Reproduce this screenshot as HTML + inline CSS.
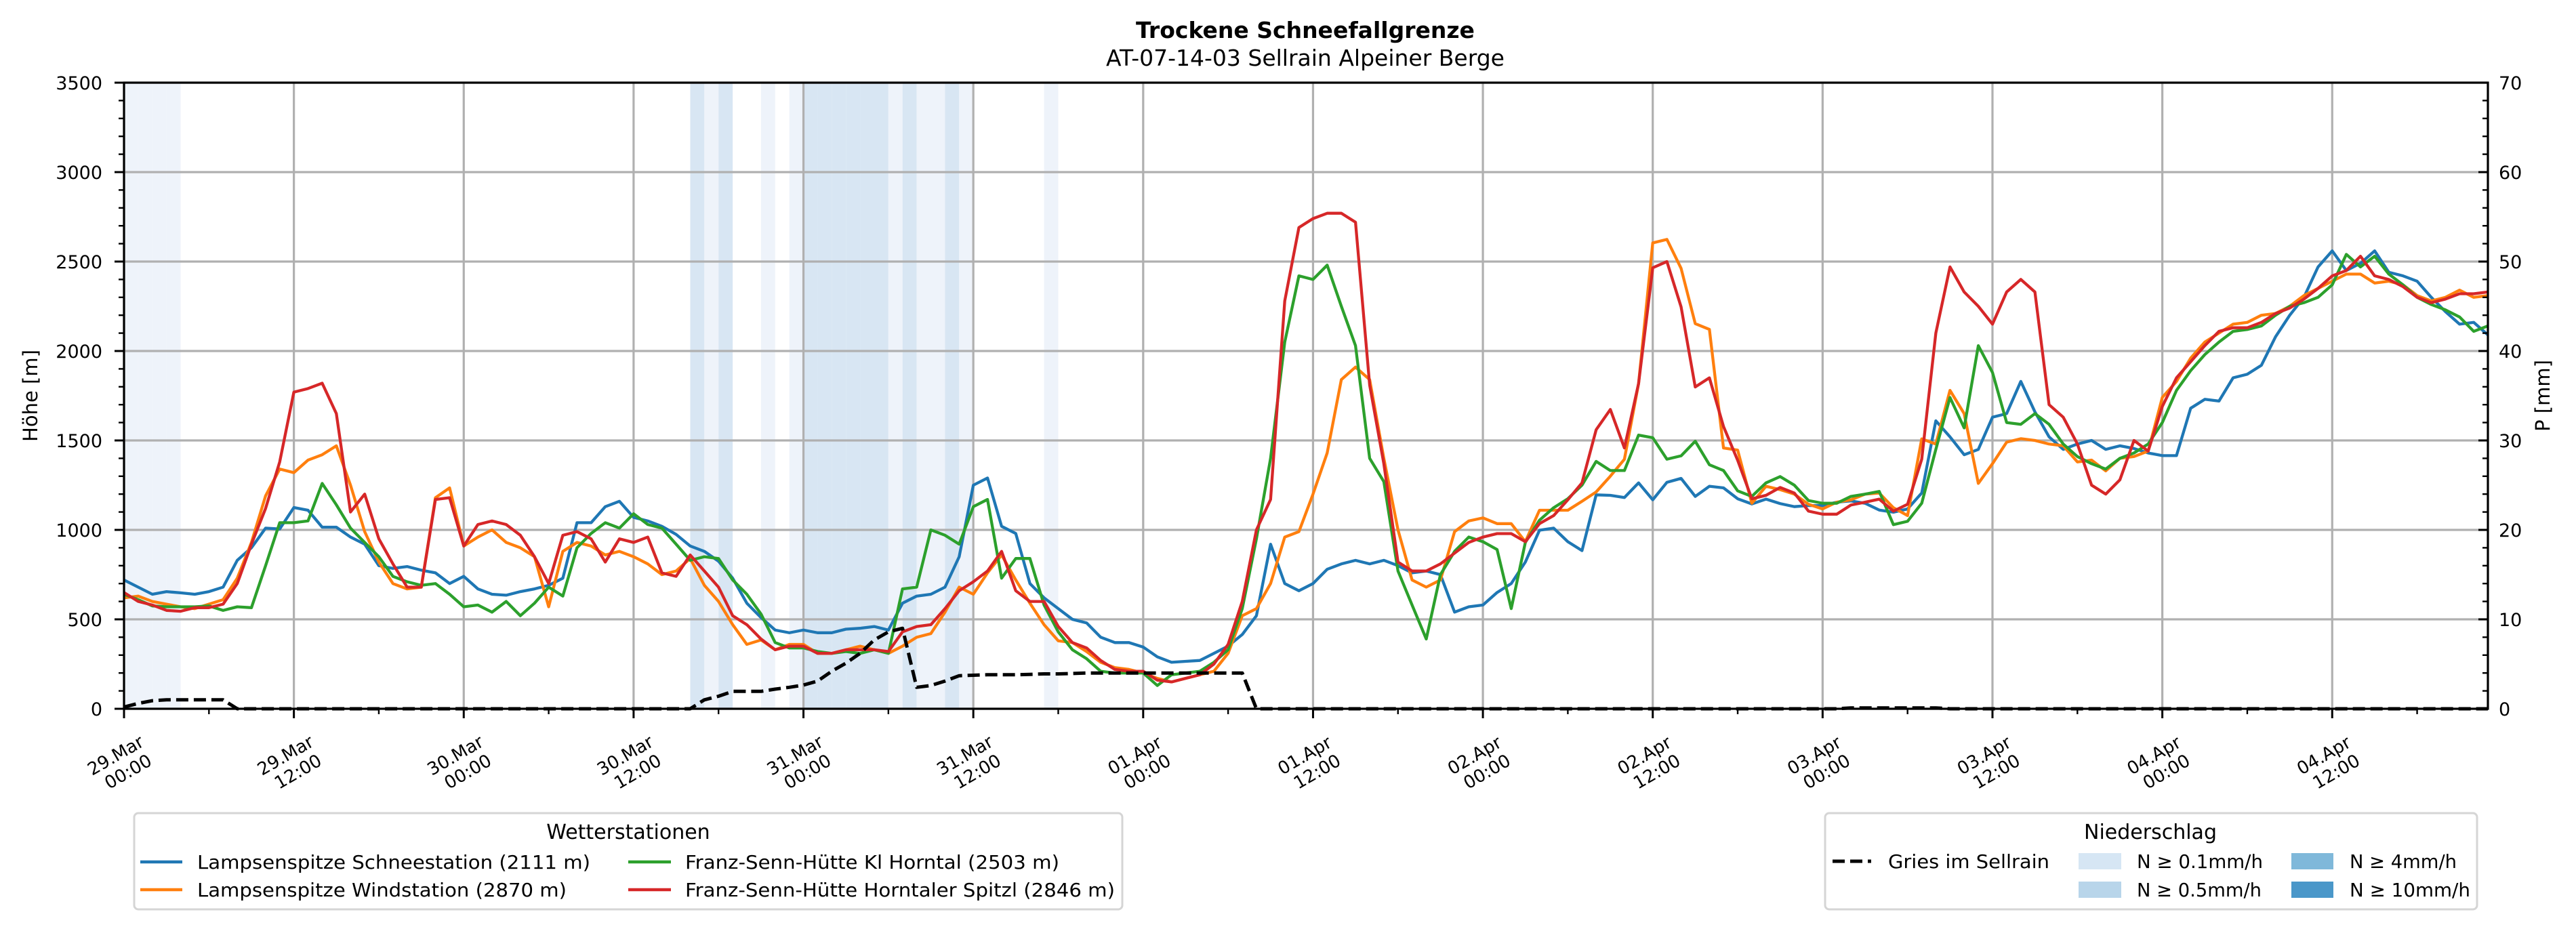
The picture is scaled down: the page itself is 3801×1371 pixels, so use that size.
<!DOCTYPE html>
<html><head><meta charset="utf-8">
<style>
html,body{margin:0;padding:0;background:#fff;}
svg{display:block;font-family:"DejaVu Sans","Liberation Sans",sans-serif;}
</style></head>
<body>
<svg id="chart" width="3801" height="1371" viewBox="0 0 3801 1371" xmlns="http://www.w3.org/2000/svg">
<rect width="3801" height="1371" fill="#fff"/>
<text x="1926" y="56" text-anchor="middle" font-size="33" font-weight="bold">Trockene Schneefallgrenze</text>
<text x="1926" y="97" text-anchor="middle" font-size="33">AT-07-14-03 Sellrain Alpeiner Berge</text>
<g id="bands"></g>
<g id="grid"></g>
<g id="series"></g>
<g id="axes"></g>
<text transform="translate(55,584) rotate(-90)" text-anchor="middle" font-size="29">Höhe [m]</text>
<text transform="translate(3762,584) rotate(-90)" text-anchor="middle" font-size="29">P [mm]</text>

<g>
<rect x="198" y="1200" width="1458" height="142" rx="6" fill="#fff" stroke="#d5d5d5" stroke-width="3"/>
<text x="927" y="1238" text-anchor="middle" font-size="30">Wetterstationen</text>
<g><line x1="207" y1="1272" x2="269" y2="1272" stroke="#1f77b4" stroke-width="4.5"/><text x="291" y="1282" font-size="28" textLength="580" lengthAdjust="spacingAndGlyphs">Lampsenspitze Schneestation (2111 m)</text></g>
<g><line x1="207" y1="1313" x2="269" y2="1313" stroke="#ff7f0e" stroke-width="4.5"/><text x="291" y="1323" font-size="28" textLength="545" lengthAdjust="spacingAndGlyphs">Lampsenspitze Windstation (2870 m)</text></g>
<g><line x1="927" y1="1272" x2="990" y2="1272" stroke="#2ca02c" stroke-width="4.5"/><text x="1011" y="1282" font-size="28" textLength="552" lengthAdjust="spacingAndGlyphs">Franz-Senn-Hütte Kl Horntal (2503 m)</text></g>
<g><line x1="927" y1="1313" x2="990" y2="1313" stroke="#d62728" stroke-width="4.5"/><text x="1011" y="1323" font-size="28" textLength="634" lengthAdjust="spacingAndGlyphs">Franz-Senn-Hütte Horntaler Spitzl (2846 m)</text></g>
</g>

<g>
<rect x="2693" y="1200" width="962" height="142" rx="6" fill="#fff" stroke="#d5d5d5" stroke-width="3"/>
<text x="3173" y="1238" text-anchor="middle" font-size="30">Niederschlag</text>
<g><line x1="2704" y1="1271" x2="2761" y2="1271" stroke="#000" stroke-width="5" stroke-dasharray="18 8"/><text x="2786" y="1281" font-size="28" textLength="238" lengthAdjust="spacingAndGlyphs">Gries im Sellrain</text></g>
<g><rect x="3067" y="1259" width="63" height="24" fill="#d6e6f4"/><text x="3153" y="1281" font-size="28" textLength="186" lengthAdjust="spacingAndGlyphs">N ≥ 0.1mm/h</text></g>
<g><rect x="3067" y="1301" width="63" height="24" fill="#b8d5ea"/><text x="3153" y="1323" font-size="28" textLength="184" lengthAdjust="spacingAndGlyphs">N ≥ 0.5mm/h</text></g>
<g><rect x="3381" y="1259" width="62" height="24" fill="#7fb8da"/><text x="3467" y="1281" font-size="28" textLength="158" lengthAdjust="spacingAndGlyphs">N ≥ 4mm/h</text></g>
<g><rect x="3381" y="1301" width="62" height="24" fill="#4a97c9"/><text x="3467" y="1323" font-size="28" textLength="178" lengthAdjust="spacingAndGlyphs">N ≥ 10mm/h</text></g>
</g>
</svg>
<script>
const blue=[720,680,640,655,648,640,655,680,830,900,1010,1005,1125,1110,1015,1015,960,920,800,785,795,775,760,700,740,670,640,635,655,670,690,730,1040,1040,1130,1160,1070,1050,1020,975,910,880,825,730,590,510,440,425,440,425,425,445,450,460,440,590,630,640,680,850,1250,1290,1020,980,700,620,560,500,480,400,370,370,345,290,260,265,270,310,350,415,520,920,700,660,700,780,810,830,810,830,800,760,770,750,540,570,580,650,700,820,998,1010,934,884,1196,1193,1181,1263,1168,1266,1288,1187,1244,1235,1174,1145,1172,1147,1130,1136,1136,1155,1162,1149,1111,1099,1117,1206,1610,1520,1420,1450,1630,1650,1830,1660,1520,1450,1480,1500,1450,1470,1455,1430,1415,1415,1680,1730,1720,1850,1870,1920,2080,2200,2300,2470,2560,2450,2490,2560,2440,2420,2390,2300,2220,2150,2160,2090];
const orange=[620,630,600,585,570,560,585,610,730,930,1190,1340,1320,1390,1420,1470,1250,990,820,700,670,680,1180,1235,910,960,1000,930,900,850,570,880,930,910,860,880,850,810,750,770,840,690,600,470,360,385,330,360,360,310,310,330,350,330,310,350,400,420,540,680,640,760,860,720,590,470,380,370,320,260,230,220,200,170,150,170,190,210,310,520,560,700,960,990,1200,1430,1840,1910,1840,1400,1000,720,680,720,990,1050,1067,1035,1035,934,1110,1110,1110,1160,1212,1300,1395,1818,2604,2624,2462,2153,2121,1458,1446,1149,1244,1225,1200,1143,1117,1155,1168,1200,1206,1124,1080,1509,1480,1780,1650,1260,1370,1490,1510,1500,1480,1470,1380,1390,1330,1400,1410,1440,1740,1830,1960,2050,2100,2150,2160,2200,2210,2250,2310,2350,2390,2430,2430,2380,2390,2370,2310,2280,2300,2340,2300,2310];
const green=[640,610,575,570,570,570,575,550,570,565,800,1040,1040,1050,1260,1140,1010,930,850,740,710,690,700,640,570,580,540,600,520,590,680,630,900,980,1040,1010,1090,1030,1010,920,830,850,840,720,640,530,370,340,340,320,310,320,310,330,310,670,680,1000,970,920,1130,1170,730,840,840,580,430,330,280,210,200,200,200,130,190,200,210,260,330,560,950,1400,2050,2420,2400,2480,2250,2030,1400,1270,770,580,390,750,880,960,934,890,560,930,1054,1124,1174,1250,1383,1332,1332,1530,1515,1395,1414,1496,1364,1332,1218,1187,1263,1298,1250,1164,1149,1149,1187,1200,1215,1029,1048,1149,1450,1740,1570,2030,1880,1600,1590,1650,1590,1480,1410,1370,1340,1400,1430,1480,1600,1780,1890,1980,2050,2110,2120,2140,2200,2250,2270,2300,2370,2540,2470,2530,2430,2370,2300,2260,2230,2190,2110,2140];
const red=[650,600,580,550,545,565,565,585,700,920,1120,1380,1770,1790,1820,1650,1100,1200,950,810,680,680,1170,1180,910,1030,1050,1030,970,850,700,970,990,950,820,950,930,960,760,740,860,770,680,520,470,390,330,350,350,310,310,330,330,330,320,430,460,470,560,660,710,770,880,660,600,600,460,370,340,270,220,210,210,160,150,170,190,250,360,600,1000,1170,2280,2690,2740,2770,2770,2720,1810,1370,820,770,770,810,870,930,960,979,979,934,1035,1080,1168,1263,1560,1673,1458,1818,2465,2500,2247,1799,1850,1578,1389,1174,1193,1237,1206,1105,1088,1088,1139,1155,1172,1105,1143,1395,2100,2470,2330,2250,2150,2330,2400,2330,1700,1630,1480,1250,1200,1280,1500,1440,1690,1850,1940,2030,2110,2130,2130,2160,2210,2240,2290,2350,2420,2450,2530,2420,2400,2360,2300,2270,2290,2320,2320,2330];
const precipSum=[0.2,0.6,0.9,1.0,1.0,1.0,1.0,1.0,0,0,0,0,0,0,0,0,0,0,0,0,0,0,0,0,0,0,0,0,0,0,0,0,0,0,0,0,0,0,0,0,0,1.0,1.4,1.95,1.95,1.95,2.2,2.4,2.65,3.1,4.2,5.1,6.2,7.7,8.6,9.0,2.4,2.6,3.1,3.7,3.75,3.8,3.8,3.8,3.85,3.9,3.9,3.95,4.0,4.0,4.0,4.0,4.0,4.0,4.0,4.0,4.0,4.0,4.0,4.0,0,0,0,0,0,0,0,0,0,0,0,0,0,0,0,0,0,0,0,0,0,0,0,0,0,0,0,0,0,0,0,0,0,0,0,0,0,0,0,0,0,0,0.1,0.1,0.1,0.1,0.1,0.1,0.1,0,0,0,0,0,0,0,0,0,0,0,0,0,0,0,0,0,0,0,0,0,0,0,0,0,0,0,0,0,0,0,0,0,0,0,0,0,0,0];
const bandHours=[0,1,2,3,40,41,42,45,47,48,49,50,51,52,53,54,55,56,57,58,59,65];
const bandClass=[1,1,1,1,2,1,2,1,1,2,2,2,2,2,2,1,2,1,1,2,1,1];
const yTicks=[0,500,1000,1500,2000,2500,3000,3500];
const y2Ticks=[0,10,20,30,40,50,60,70];
const xTickHours=[0,12,24,36,48,60,72,84,96,108,120,132,144,156];
const xTickDates=["29.Mar","29.Mar","30.Mar","30.Mar","31.Mar","31.Mar","01.Apr","01.Apr","02.Apr","02.Apr","03.Apr","03.Apr","04.Apr","04.Apr"];
const xTickTimes=["00:00","12:00","00:00","12:00","00:00","12:00","00:00","12:00","00:00","12:00","00:00","12:00","00:00","12:00"];

const L=183,R=3671,T=122,B=1046,NH=167;
const x=h=>L+h*(R-L)/NH;
const y=v=>B-v*(B-T)/3500;
const y2=p=>B-p*(B-T)/70;
const NS="http://www.w3.org/2000/svg";
function mk(tag,attrs,parent){const e=document.createElementNS(NS,tag);for(const k in attrs)e.setAttribute(k,attrs[k]);parent.appendChild(e);return e;}
const bands=document.getElementById('bands'),grid=document.getElementById('grid'),series=document.getElementById('series'),axes=document.getElementById('axes');
bandHours.forEach((h,i)=>{
  const r=mk('rect',{x:x(h),y:T,width:x(h+1)-x(h),height:B-T,fill:bandClass[i]===2?'#d8e6f3':'#eef3fa'},bands);
  
  
});
xTickHours.forEach(h=>{const l=mk('line',{x1:x(h),y1:T,x2:x(h),y2:B,stroke:'#b0b0b0','stroke-width':3.2},grid);
  
  });
yTicks.forEach(v=>{const l=mk('line',{x1:L,y1:y(v),x2:R,y2:y(v),stroke:'#b0b0b0','stroke-width':3.2},grid);
  
  });
function line(data,fn,color,name,dash){
  const d=data.map((v,i)=>(i?'L':'M')+x(i).toFixed(1)+','+fn(v).toFixed(1)).join('');
  const p=mk('path',{d:d,fill:'none',stroke:color,'stroke-width':dash?5:4.3,'stroke-linejoin':'round'},series);
  if(dash)p.setAttribute('stroke-dasharray','18 8');
  
  
}
line(blue,y,'#1f77b4','line-lampsenspitze-schneestation');
line(orange,y,'#ff7f0e','line-lampsenspitze-windstation');
line(green,y,'#2ca02c','line-franz-senn-kl-horntal');
line(red,y,'#d62728','line-franz-senn-horntaler-spitzl');
line(precipSum,y2,'#000','line-gries-precip-sum',true);
mk('rect',{x:L,y:T,width:R-L,height:B-T,fill:'none',stroke:'#000','stroke-width':3.2},axes);
for(let v=0;v<=3500;v+=100){const maj=v%500===0;mk('line',{x1:L-(maj?14:8),y1:y(v),x2:L,y2:y(v),stroke:'#000','stroke-width':maj?3:2.4},axes);}
for(let p=0;p<=70;p+=2){const maj=p%10===0;mk('line',{x1:R-(maj?14:8),y1:y2(p),x2:R,y2:y2(p),stroke:'#000','stroke-width':maj?3:2.4},axes);}
for(let h=0;h<=NH;h+=6){const maj=h%12===0;mk('line',{x1:x(h),y1:B,x2:x(h),y2:B+(maj?14:8),stroke:'#000','stroke-width':maj?3:2.4},axes);}
yTicks.forEach(v=>{const t=mk('text',{x:151,y:y(v)+10,'text-anchor':'end','font-size':27},axes);t.textContent=v;
  
  });
y2Ticks.forEach(p=>{const t=mk('text',{x:3687,y:y2(p)+10,'font-size':27},axes);t.textContent=p;
  
  });
xTickHours.forEach((h,i)=>{
  const g=mk('g',{transform:`translate(${x(h)-6},1126) rotate(-30)`},axes);
  
  
  const a=mk('text',{x:0,y:-4,'text-anchor':'middle','font-size':26},g);a.textContent=xTickDates[i];
  const b=mk('text',{x:4,y:26,'text-anchor':'middle','font-size':26},g);b.textContent=xTickTimes[i];
});
</script>
</body></html>
